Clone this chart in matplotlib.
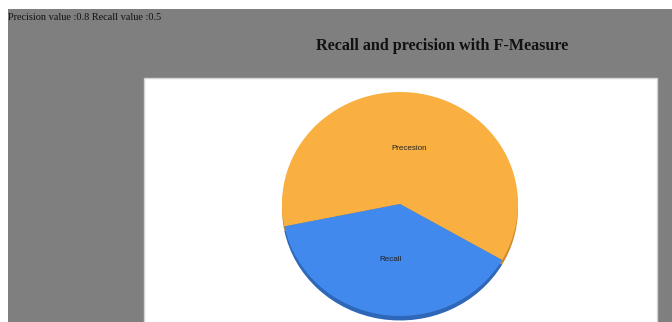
import matplotlib
matplotlib.use("Agg")
import matplotlib.pyplot as plt
from matplotlib.patches import Rectangle

# data
labels = ["Precesion", "Recall"]
values = [0.8, 0.5]
colors = ["#F9B040", "#4189EC"]
shadow_colors = ["#C98A2C", "#2E66B8"]
title = "Recall and precision with F-Measure"
info = "Precision value :0.8 Recall value :0.5"

W, H = 672, 322
fig = plt.figure(figsize=(W / 100, H / 100), dpi=100)
fig.patch.set_facecolor("white")

# background in pixel coordinates
bg = fig.add_axes([0, 0, 1, 1])
bg.set_xlim(0, W)
bg.set_ylim(H, 0)
bg.axis("off")
bg.add_patch(Rectangle((8, 9), W - 8, H - 9, facecolor="#7F7F7F", edgecolor="none"))
bg.add_patch(Rectangle((144, 78), 513, H - 76, facecolor="white", edgecolor="#D4D4D4", lw=1.0))
bg.text(8, 17, info, family="Liberation Serif", fontsize=7.4, color="#111111",
        ha="left", va="center")
bg.text(442, 46, title, family="Liberation Serif", fontsize=11.6, fontweight="bold",
        color="#111111", ha="center", va="center")

# pie, slightly squashed, with a shadow layer underneath
cx, cy = 400, H - 204
rx, ry = 118, 112
m = 1.1
ax = fig.add_axes([(cx - rx * m) / W, (cy - ry * m) / H, 2 * rx * m / W, 2 * ry * m / H])
ax.pie(values, colors=shadow_colors, startangle=330, center=(0, -0.04),
       wedgeprops=dict(linewidth=0))
ax.pie(values, colors=colors, startangle=330, labels=labels, labeldistance=0.5,
       textprops=dict(fontsize=5.8, color="#222222", ha="center", va="center",
                      family="Liberation Sans"),
       wedgeprops=dict(linewidth=0))
ax.set_aspect("auto")
ax.set_xlim(-m, m)
ax.set_ylim(-m, m)

fig.savefig("out.png", dpi=100)
